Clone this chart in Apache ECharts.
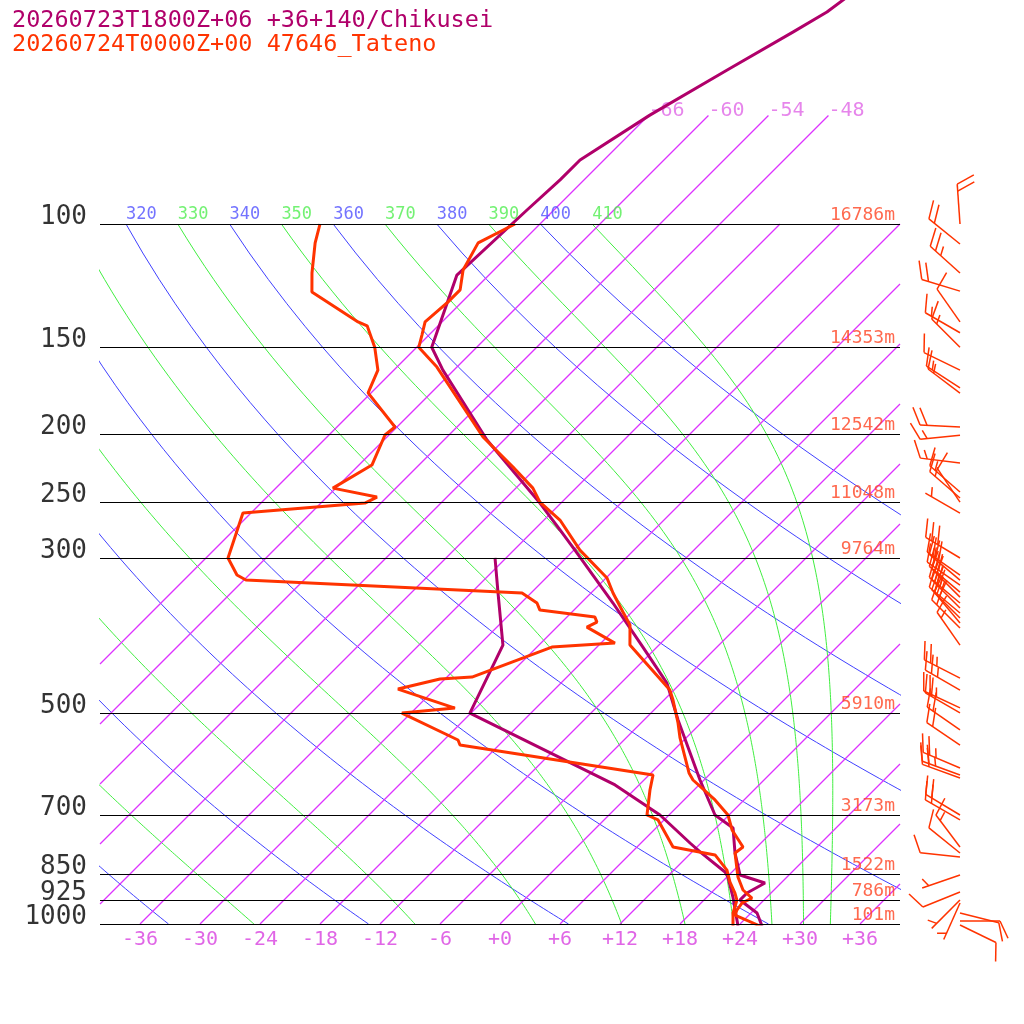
<!DOCTYPE html>
<html>
<head>
<meta charset="utf-8">
<script src="https://cdn.jsdelivr.net/npm/echarts@6/dist/echarts.min.js"></script>
<style>
html, body {margin: 0; padding: 0; background: #fff;}
#chart {width: 1024px; height: 1024px;}
</style>
</head>
<body>
<div id="chart"></div>
<script>
// skew-T: 10 px per degC, 700 px per pressure decade, so isotherms run at 45 deg
const SKEW = 70;
const X_MIN = -40, X_MAX = 40;
const P_TOP = 1000 * Math.pow(10, -924 / 700); // pressure at the top edge of the page
const KAPPA = 0.2857;
const FONT = 'DejaVu Sans Mono';

const TITLE_FC = '20260723T1800Z+06 +36+140/Chikusei';
const TITLE_OBS = '20260724T0000Z+00 47646_Tateno';

const ISOBARS = [100, 150, 200, 250, 300, 500, 700, 850, 925, 1000];
const HEIGHTS = ['16786m', '14353m', '12542m', '11048m', '9764m', '5910m', '3173m', '1522m', '786m', '101m'];
const ISOTHERMS = [-66, -60, -54, -48, -42, -36, -30, -24, -18, -12, -6, 0, 6, 12, 18, 24, 30, 36];
const ISOTHERMS_HIGH = [-66, -60, -54, -48]; // these continue up to 70 hPa
const T_LABELS = [-36, -30, -24, -18, -12, -6, 0, 6, 12, 18, 24, 30, 36];
const DRY_THETA = [240, 260, 280, 300, 320, 340, 360, 380, 400];
const MOIST_THETA = [250, 270, 290, 310, 330, 350, 370, 390, 410];

// observation 47646 Tateno
const OBS_P = [100, 106.4, 116.3, 124.2, 129.2, 138, 144.1, 150, 160.1, 201.5, 222.4, 238.4, 249.6, 264.8, 292.3,
  320.4, 336.6, 358.4, 374, 399.5, 463.3, 478.6, 516.2, 542.3, 608.5, 622.7, 665, 698.7, 733.9, 776.2, 791.7,
  856.9, 894.2, 918.2, 933.3, 955, 971, 1006.6];
const OBS_T = [-68.5, -70.3, -69.1, -67.4, -67.4, -67.7, -66.7, -65.8, -62.0, -50.4, -44.4, -40.3, -38.2, -34.4, -29.4,
  -23.9, -21.8, -18.9, -16.9, -14.9, -6.4, -5.1, -2.3, -0.6, 3.8, 4.9, 9.1, 11.9, 13.8, 16.6, 16.4,
  19.1, 20.9, 22.6, 22.1, 22.3, 22.6, 26.2];
const OBS_TD_P = [100, 106.4, 117.5, 125.1, 138, 139.8, 150, 161.7, 174.3, 195, 200.2, 221, 238.4, 245.5, 250.4,
  258.8, 300, 317.3, 322.6, 336.6, 347.9, 356.1, 364.4, 370.4, 376.6, 396.9, 402.2, 443.8, 446.7, 461.7,
  491.5, 499.7, 545.9, 555, 612.5, 643.6, 698.7, 710.2, 776.2, 796.8, 837.4, 871, 903.2, 924.3, 964.4, 1006.6];
const OBS_TD = [-88.0, -86.6, -83.9, -82.0, -74.4, -73.1, -70.2, -67.6, -66.3, -60.2, -60.4, -58.7, -60.3, -55.0, -55.6,
  -66.8, -63.8, -61.2, -59.8, -30.9, -28.4, -27.4, -21.2, -20.5, -21.0, -16.6, -22.5, -27.5, -30.5, -33.7,
  -26.1, -30.9, -22.6, -21.9, 0.4, 1.6, 3.8, 5.4, 9.6, 14.6, 17.3, 18.8, 20.4, 21.3, 22.2, 23.5];

// forecast +36h Chikusei
const FC_P = [46.5, 49.8, 53.2, 60.3, 69.9, 81, 86.5, 95.5, 118.3, 150, 161.7, 203.5, 250.4, 273.6, 292.3,
  347.9, 402.2, 452.7, 511.1, 622.7, 698.7, 729.1, 791.7, 851.1, 873.9, 903.2, 924.3, 964.4, 1006.6];
const FC_T = [-57.8, -58.5, -59.9, -62.7, -65.9, -68.4, -68.4, -68.7, -69.2, -64.5, -61.1, -49.7, -38.1, -33.4, -29.9,
  -20.8, -13.4, -7.4, -2.6, 5.6, 10.6, 13.7, 16.4, 19.1, 22.4, 21.6, 21.6, 24.6, 26.4];
const FC_TD_P = [300, 336.6, 399.5, 499.7, 632.9, 698.7, 766.1, 789, 842.8, 856.9, 915.2, 1006.6];
const FC_TD = [-37.1, -33.3, -27.6, -24.1, -2.4, 5.1, 10.9, 12.8, 17.3, 18.1, 20.6, 24.0];

// observed winds: direction (deg) and speed (kt)
const WIND_P = [100, 106.8, 117.5, 124.7, 138, 143, 150, 161.7, 171.5, 174.4, 195, 200.3, 219.5, 241.5, 246.3,
  249.6, 258.8, 300, 317.3, 322.6, 328, 335.6, 341.2, 347.9, 353.7, 359.5, 365.5, 371.5, 377.7, 399.5,
  445.3, 463.3, 491.3, 499.5, 528.2, 555.1, 598.6, 612.5, 618.7, 698.7, 710.2, 776.2, 791.7, 802.2,
  851.1, 900.2, 924.3, 933.3, 964.4, 990.1, 1003.3];
const WIND_DIR = [356, 309, 312, 287, 325, 300, 315, 296, 303, 307, 273, 264, 277, 311, 311,
  326, 300, 301, 305, 310, 305, 310, 315, 310, 315, 310, 315, 320, 315, 325,
  297, 300, 295, 300, 305, 304, 293, 290, 290, 301, 300, 323, 309, 276,
  251, 248, 225, 204, 104, 90, 116];
const WIND_KT = [20, 20, 25, 20, 10, 15, 15, 10, 15, 15, 20, 15, 15, 15, 15,
  10, 5, 30, 30, 25, 25, 25, 25, 25, 25, 20, 20, 20, 20, 15,
  25, 25, 25, 20, 20, 20, 25, 25, 20, 20, 20, 15, 10, 10,
  5, 10, 5, 5, 10, 10, 10];

const RED = '#ff3300';
const MAG = '#b0006a';
const ISO_COLOR = '#dd33ff';

function sk(t, p) {
  return [t + SKEW * Math.log10(1000 / p), p];
}

function profile(ps, ts) {
  return ps.map((p, i) => sk(ts[i], p));
}

function dryT(theta, p) {
  return theta * Math.pow(p / 1000, KAPPA) - 273.15;
}

// pseudo-adiabatic lapse rate dT/dp (K/hPa)
function moistLapse(t, p) {
  const tc = t - 273.15;
  const es = 6.112 * Math.exp(17.67 * tc / (tc + 243.5));
  const rs = 0.622 * es / (p - es);
  const L = 2.501e6;
  return (287.04 * t + L * rs) / (p * (1005.7 + L * L * rs * 0.622 / (287.04 * t * t)));
}

function moistLine(theta) {
  let t = theta * Math.pow(0.1, KAPPA);
  const pts = [sk(t - 273.15, 100)];
  const dp = 5;
  for (let p = 100; p < 1000; p += dp) {
    const k1 = moistLapse(t, p);
    const k2 = moistLapse(t + k1 * dp, p + dp);
    t += 0.5 * dp * (k1 + k2);
    pts.push(sk(t - 273.15, p + dp));
  }
  return pts;
}

function thin(name, data, color) {
  return {
    name: name, type: 'line', data: data, showSymbol: false, silent: true,
    lineStyle: {color: color, width: 1}, z: 1
  };
}

const series = [];

// isotherms as straight segments, clipped to the plot box by hand
// (a 1px 45deg stroke comes out grey here, so it is a touch wider)
function renderIsotherm(params, api) {
  const t = api.value(0), top = api.value(1);
  const a = api.coord(sk(t, 1000)), b = api.coord(sk(t, top));
  const cs = params.coordSys;
  const x0 = cs.x, x1 = cs.x + cs.width;
  const dx = b[0] - a[0], dy = b[1] - a[1];
  const s0 = Math.max(0, (x0 - a[0]) / dx);
  const s1 = Math.min(1, (x1 - a[0]) / dx);
  if (s1 <= s0) return null;
  return {
    type: 'line',
    shape: {x1: a[0] + dx * s0, y1: a[1] + dy * s0, x2: a[0] + dx * s1, y2: a[1] + dy * s1},
    style: {stroke: ISO_COLOR, fill: null, lineWidth: 1.3, opacity: 1}
  };
}
series.push({
  type: 'custom', silent: true, clip: false, z: 2,
  data: ISOTHERMS.map(t => [t, ISOTHERMS_HIGH.indexOf(t) >= 0 ? 70 : 100]),
  encode: {x: 0, y: 1},
  renderItem: renderIsotherm
});
DRY_THETA.forEach(th => {
  const pts = [];
  for (let p = 1000; p >= 100; p -= 10) pts.push(sk(dryT(th, p), p));
  series.push(thin('dry ' + th, pts, '#4040ff'));
});
MOIST_THETA.forEach(th => {
  series.push(thin('moist ' + th, moistLine(th), '#40ee40'));
});

// theta labels along 100 hPa
const thetaLabels = [];
DRY_THETA.concat(MOIST_THETA).forEach(th => {
  const pt = sk(dryT(th, 100), 100);
  if (pt[0] >= X_MIN) {
    thetaLabels.push({
      value: pt, name: String(th),
      label: {color: DRY_THETA.indexOf(th) >= 0 ? '#5050ff' : '#50ee50'}
    });
  }
});
series.push({
  type: 'scatter', data: thetaLabels, symbolSize: 0, silent: true, clip: false,
  label: {show: true, position: 'right', distance: 0, offset: [0, -9], formatter: '{b}',
    fontFamily: FONT, fontSize: 17}
});

// isotherm labels at the top end of the high isotherms
series.push({
  type: 'scatter', data: ISOTHERMS_HIGH.map(t => ({value: sk(t, 70), name: String(t)})),
  symbolSize: 0, silent: true, clip: false,
  label: {show: true, position: 'right', distance: 0, offset: [0, -5], formatter: '{b}',
    fontFamily: FONT, fontSize: 20, color: '#e066e6'}
});

// isobars with pressure labels on the left
series.push({
  type: 'scatter', data: ISOBARS.map(p => ({value: [X_MIN, p], name: String(p)})),
  symbolSize: 0, silent: true, clip: false,
  label: {show: true, position: 'left', distance: 13, offset: [0, -7], formatter: '{b}',
    fontFamily: FONT, fontSize: 26, color: '#000'},
  markLine: {
    silent: true, symbol: ['none', 'none'], label: {show: false}, animation: false,
    lineStyle: {color: '#000', width: 1, type: 'solid'},
    data: ISOBARS.map(p => ({yAxis: p}))
  }
});
// heights on the right
series.push({
  type: 'scatter', data: ISOBARS.map((p, i) => ({value: [X_MAX, p], name: HEIGHTS[i]})),
  symbolSize: 0, silent: true, clip: false,
  label: {show: true, position: 'left', distance: 5, offset: [0, -9], formatter: '{b}',
    fontFamily: FONT, fontSize: 18, color: '#ff4422'}
});

// profiles
[[FC_P, FC_T], [FC_TD_P, FC_TD]].forEach((d, i) => {
  series.push({
    name: 'fc' + i, type: 'line', data: profile(d[0], d[1]), showSymbol: false, silent: true,
    lineStyle: {color: MAG, width: 3}, z: 3
  });
});
[[OBS_P, OBS_T], [OBS_TD_P, OBS_TD]].forEach((d, i) => {
  series.push({
    name: 'obs' + i, type: 'line', data: profile(d[0], d[1]), showSymbol: false, silent: true,
    lineStyle: {color: RED, width: 3}, z: 4
  });
});

// wind barbs
const STAFF = 40, FEATHER = 19, GAP = 7;
function renderBarb(params, api) {
  const p = api.value(1), dir = api.value(2), kt = api.value(3);
  const base = api.coord([0, p]);
  const r = dir * Math.PI / 180;
  const ux = Math.sin(r), uy = -Math.cos(r);
  const a = 65 * Math.PI / 180;
  const fx = ux * Math.cos(a) - uy * Math.sin(a);
  const fy = ux * Math.sin(a) + uy * Math.cos(a);
  const style = {stroke: RED, lineWidth: 1.5};
  const tip = [base[0] + ux * STAFF, base[1] + uy * STAFF];
  const children = [{type: 'line', shape: {x1: base[0], y1: base[1], x2: tip[0], y2: tip[1]}, style: style}];
  let left = Math.round(kt / 5) * 5;
  let k = 0;
  while (left >= 10) {
    const sx = tip[0] - ux * GAP * k, sy = tip[1] - uy * GAP * k;
    children.push({type: 'line', shape: {x1: sx, y1: sy, x2: sx + fx * FEATHER, y2: sy + fy * FEATHER}, style: style});
    left -= 10;
    k++;
  }
  if (left >= 5) {
    if (k === 0) k = 1;
    const sx = tip[0] - ux * GAP * k, sy = tip[1] - uy * GAP * k;
    children.push({type: 'line', shape: {x1: sx, y1: sy, x2: sx + fx * FEATHER / 2, y2: sy + fy * FEATHER / 2}, style: style});
  }
  return {type: 'group', children: children};
}
series.push({
  type: 'custom', xAxisIndex: 1, yAxisIndex: 1, clip: false, silent: true,
  data: WIND_P.map((p, i) => [0, p, WIND_DIR[i], WIND_KT[i]]),
  encode: {x: 0, y: 1},
  renderItem: renderBarb, z: 5
});

const chart = echarts.init(document.getElementById('chart'));
chart.setOption({
  animation: false,
  backgroundColor: '#fff',
  title: [
    {text: TITLE_FC, left: 7, top: 4, textStyle: {fontFamily: FONT, fontSize: 23.5, fontWeight: 'normal', color: MAG}},
    {text: TITLE_OBS, left: 7, top: 28, textStyle: {fontFamily: FONT, fontSize: 23.5, fontWeight: 'normal', color: RED}}
  ],
  grid: [
    {left: 100, top: 0, width: 800, height: 924},
    {left: 920, top: 0, width: 80, height: 924}
  ],
  xAxis: [
    {
      type: 'value', gridIndex: 0, min: X_MIN, max: X_MAX,
      axisLine: {show: false}, axisTick: {show: false}, splitLine: {show: false},
      axisLabel: {
        customValues: T_LABELS, margin: 6, fontFamily: FONT, fontSize: 20, color: '#e066e6',
        formatter: v => (v >= 0 ? '+' + v : String(v))
      }
    },
    {type: 'value', gridIndex: 1, min: -1, max: 1, show: false}
  ],
  yAxis: [
    {type: 'log', gridIndex: 0, min: P_TOP, max: 1000, inverse: true, show: false},
    {type: 'log', gridIndex: 1, min: P_TOP, max: 1000, inverse: true, show: false}
  ],
  series: series
});
</script>
</body>
</html>
